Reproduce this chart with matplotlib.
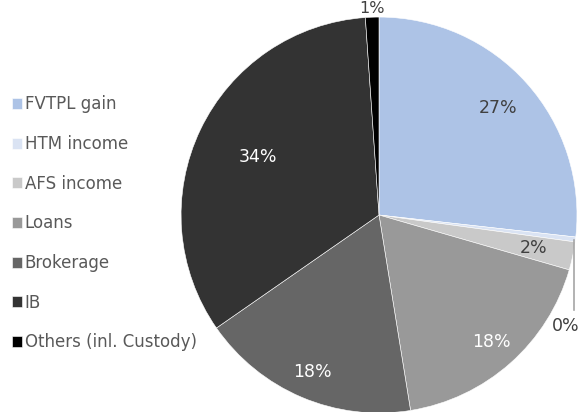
import numpy as np
import matplotlib
matplotlib.use("Agg")
import matplotlib.pyplot as plt

labels = ["FVTPL gain", "HTM income", "AFS income", "Loans", "Brokerage", "IB",
          "Others (inl. Custody)"]
shares = [26.8, 0.4, 2.3, 18.0, 17.9, 33.6, 1.1]
colors = ["#adc3e6", "#dae3f3", "#c9c9c9", "#999999", "#666666", "#333333", "#000000"]
label_dist = [0.81, None, 0.80, 0.86, 0.86, 0.68, 1.045]
label_color = ["#404040", "#404040", "#404040", "white", "white", "white", "#404040"]

plt.rcParams['font.family'] = ['DejaVu Sans']

fig = plt.figure(figsize=(5.79, 4.12), dpi=100)
ax = fig.add_axes([0.3126, -0.0024, 0.684, 0.961])

wedges, _ = ax.pie(shares, colors=colors, startangle=90, counterclock=False,
                   wedgeprops=dict(edgecolor="white", linewidth=0.4))
ax.set_xlim(-1, 1)
ax.set_ylim(-1, 1)
ax.axis("off")

for w, s, d, c in zip(wedges, shares, label_dist, label_color):
    mid = np.deg2rad((w.theta1 + w.theta2) / 2)
    txt = "%d%%" % round(s)
    if d is None:
        # tiny slice: leader line down the right side
        x0, y0 = np.cos(mid), np.sin(mid)
        ax.plot([x0 - 0.005, x0 - 0.005], [y0, -0.48], color="#a6a6a6", lw=1.2, clip_on=False)
        ax.text(x0 - 0.05, -0.56, txt, ha="center", va="center", fontsize=12.5,
                color=c)
        continue
    fs = 11.5 if d > 1 else 12.5
    ax.text(d * np.cos(mid), d * np.sin(mid), txt, ha="center", va="center",
            fontsize=fs, color=c)

fig.legend(wedges, labels, loc="center left", bbox_to_anchor=(-0.006, 0.458),
           frameon=False, fontsize=12, labelcolor="#595959",
           handlelength=0.62, handleheight=0.62, handletextpad=0.18,
           labelspacing=1.3)

fig.savefig("out.png", dpi=100)
